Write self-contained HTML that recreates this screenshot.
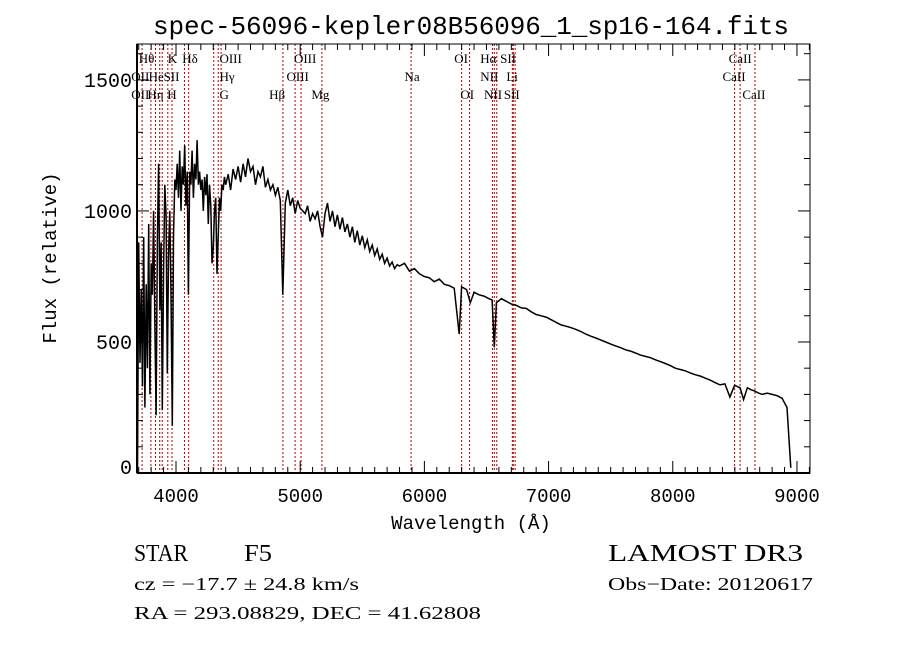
<!DOCTYPE html>
<html><head><meta charset="utf-8"><style>
body{margin:0;background:#fff;width:900px;height:649px;overflow:hidden}
svg{display:block}
.m{font-family:"Liberation Mono",monospace}
.s{font-family:"Liberation Serif",serif}
.ln{font-family:"Liberation Serif",serif;font-size:13px;fill:#000}
</style></head><body>
<svg id="chart" width="900" height="649" viewBox="0 0 900 649" xmlns="http://www.w3.org/2000/svg">
<rect width="900" height="649" fill="#fff"/>
<text class="m" x="471" y="34" font-size="26" text-anchor="middle" textLength="636">spec-56096-kepler08B56096_1_sp16-164.fits</text>
<g id="lines"></g>
<g id="labels"></g>
<path id="spec" fill="none" stroke="#000" stroke-width="1.5"/>
<g id="axes"></g>
<text class="m" x="471" y="529" font-size="19" text-anchor="middle">Wavelength (Å)</text>
<text class="m" x="0" y="0" font-size="19" text-anchor="middle" transform="translate(56,258) rotate(-90)">Flux (relative)</text>
<text class="s" x="134" y="561" font-size="24" textLength="54" lengthAdjust="spacingAndGlyphs">STAR</text>
<text class="s" x="244" y="561" font-size="24" textLength="28" lengthAdjust="spacingAndGlyphs">F5</text>
<text class="s" x="608" y="561" font-size="24" textLength="195" lengthAdjust="spacingAndGlyphs">LAMOST DR3</text>
<text class="s" x="134" y="590" font-size="18" textLength="225" lengthAdjust="spacingAndGlyphs">cz = −17.7 ± 24.8 km/s</text>
<text class="s" x="608" y="590" font-size="18" textLength="205" lengthAdjust="spacingAndGlyphs">Obs−Date: 20120617</text>
<text class="s" x="134" y="619" font-size="18" textLength="347" lengthAdjust="spacingAndGlyphs">RA = 293.08829, DEC =   41.62808</text>
</svg>
<script>
const wl = [3690,3700,3710,3720,3730,3740,3750,3760,3770,3780,3790,3800,3810,3820,3830,3840,3850,3860,3870,3880,3890,3900,3910,3920,3930,3940,3950,3960,3970,3980,3990,4000,4010,4020,4030,4040,4050,4060,4070,4080,4090,4100,4110,4120,4130,4140,4150,4160,4170,4180,4190,4200,4210,4220,4230,4240,4250,4260,4270,4280,4290,4300,4310,4320,4330,4340,4350,4360,4370,4380,4390,4400,
4420,4440,4460,4480,4500,4520,4540,4560,4580,4600,4620,4640,4660,4680,4700,4720,4740,4760,4780,4800,4820,4840,4860,4880,4900,4920,4940,4960,4980,5000,5020,5040,5060,5080,5100,5120,5140,5160,5180,5200,
5220,5240,5260,5280,5300,5320,5340,5360,5380,5400,5420,5440,5460,5480,5500,5520,5540,5560,5580,5600,5620,5640,5660,5680,5700,5720,5740,5760,5780,5800,5840,5880,5920,5960,6000,6040,6080,6120,6160,6200,6240,6280,6300,6340,6370,6400,6440,6480,6520,6545,6563,6580,6620,6660,6700,6740,6780,6820,6860,6900,6940,6980,7020,7060,7100,7140,7180,7220,7260,7300,7340,7380,7420,7460,7500,7540,7580,7620,7660,7700,7740,7780,7820,7860,7900,7940,7980,8020,8060,8100,8140,8180,8220,8260,8300,8340,8380,8420,8460,8498,8520,8542,8570,8600,8630,8662,8690,8720,8760,8800,8840,8880,8920,8950,8975,8990,9000,9004];
const flux = [0,880,420,700,330,900,250,720,400,950,300,800,680,1000,560,220,900,1180,620,880,240,780,1100,980,380,820,1000,680,180,900,1120,1080,1180,1050,1230,1000,1170,1100,1250,1020,1150,680,1150,1100,1230,1050,1180,1120,1270,1100,1150,1080,1120,1000,1130,1060,1140,950,1100,1020,800,860,1000,1050,760,900,1050,1000,1100,1080,1130,1100,
1140,1080,1160,1120,1170,1110,1180,1130,1200,1150,1170,1100,1150,1130,1170,1090,1120,1080,1100,1060,1090,1040,680,1030,1080,1020,1050,990,1040,1010,1000,990,1020,960,990,970,1000,940,900,990,
1030,960,1000,940,985,930,975,920,950,900,940,880,925,870,905,860,890,845,870,830,855,815,835,800,820,790,805,780,795,790,800,770,780,760,750,745,730,740,720,715,705,530,710,700,650,690,680,675,665,660,480,650,665,655,645,640,630,628,615,605,600,595,585,575,565,560,555,548,540,530,522,515,508,500,492,485,478,470,465,458,450,445,440,432,425,418,410,400,395,390,382,375,370,362,355,345,336,340,290,335,330,325,280,325,318,312,305,300,305,300,295,285,250,20];
const lineWl = [3727,3798,3835,3869,3889,3934,3968,4068,4102,4304,4340,4363,4861,4959,5007,5175,5893,6300,6364,6548,6563,6583,6708,6716,6731,8498,8542,8662];
const xTicks = [4000,5000,6000,7000,8000,9000];
const yTicks = [0,500,1000,1500];
const labels = [["Hθ",3700,58],["K",3934,58],["Hδ",4050,58],["OIII",4350,58],["OIII",4950,58],["OI",6240,58],["Hα",6450,58],["SII",6610,58],["CaII",8450,58],
["OII",3640,76],["He",3780,76],["SII",3900,76],["Hγ",4350,76],["OIII",4890,76],["Na",5840,76],["NII",6450,76],["Li",6660,76],["CaII",8400,76],
["OII",3640,94],["Hη",3770,94],["H",3930,94],["G",4350,94],["Hβ",4750,94],["Mg",5090,94],["OI",6290,94],["NII",6480,94],["SII",6640,94],["CaII",8560,94]];
const L=137,R=810,T=44,B=473,XMIN=3686,XMAX=9105,YMIN=0,YMAX=1637;
function sx(v){return L+(v-XMIN)/(XMAX-XMIN)*(R-L);}
function sy(v){return B-(v-YMIN)/(YMAX-YMIN)*(B-T);}
const NS="http://www.w3.org/2000/svg";
function mk(tag,attrs,parent){const e=document.createElementNS(NS,tag);for(const k in attrs)e.setAttribute(k,attrs[k]);parent.appendChild(e);return e;}
const gl=document.getElementById('lines');
lineWl.forEach(w=>{const e=mk('line',{x1:sx(w),x2:sx(w),y1:T,y2:B,stroke:'#b00000','stroke-width':1,'stroke-dasharray':'2,2'},gl);

});
const glb=document.getElementById('labels');
labels.forEach(l=>{const t=mk('text',{x:sx(l[1]),y:l[2]+5,class:'ln'},glb);t.textContent=l[0];

});
let d='';for(let i=0;i<wl.length;i++){d+=(i?'L':'M')+sx(wl[i]).toFixed(1)+','+sy(flux[i]).toFixed(1);}
document.getElementById('spec').setAttribute('d',d);
const ga=document.getElementById('axes');
mk('rect',{x:L,y:T,width:R-L,height:B-T,fill:'none',stroke:'#000','stroke-width':1},ga);
mk('line',{x1:L,x2:L,y1:T,y2:B,stroke:'#000','stroke-width':2},ga);
mk('line',{x1:L,x2:R,y1:B,y2:B,stroke:'#000','stroke-width':2},ga);
for(let v=3700;v<=9100;v+=100){const big=v%1000===0;const h=big?12:6;const x=sx(v);
mk('line',{x1:x,x2:x,y1:B,y2:B-h,stroke:'#000'},ga);mk('line',{x1:x,x2:x,y1:T,y2:T+h,stroke:'#000'},ga);}
for(let v=0;v<=1600;v+=100){const big=v%500===0;const h=big?12:6;const y=sy(v);
mk('line',{x1:L,x2:L+h,y1:y,y2:y,stroke:'#000'},ga);mk('line',{x1:R,x2:R-h,y1:y,y2:y,stroke:'#000'},ga);}
xTicks.forEach(v=>{const t=mk('text',{x:sx(v),y:B+29,class:'m','font-size':19,'text-anchor':'middle'},ga);t.textContent=v;

});
yTicks.forEach(v=>{const t=mk('text',{x:L-5,y:sy(v)+(v===0?1:7),class:'m','font-size':20,'text-anchor':'end'},ga);t.textContent=v;

});
</script>
</body></html>
